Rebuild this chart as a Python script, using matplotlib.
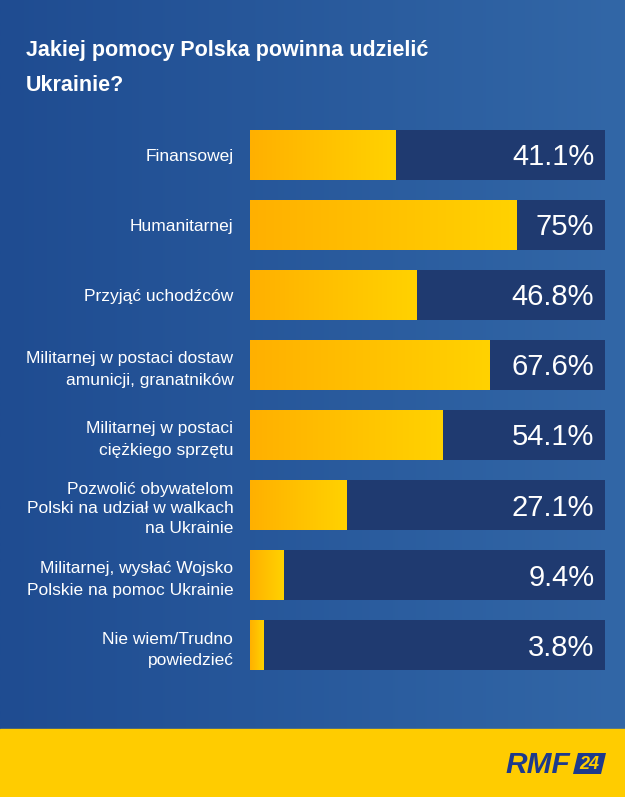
import numpy as np
import matplotlib
matplotlib.use("Agg")
import matplotlib.pyplot as plt
from matplotlib.colors import LinearSegmentedColormap
from matplotlib.patches import Rectangle, Polygon

plt.rcParams['font.family'] = ['Liberation Sans', 'DejaVu Sans']

# data
title = "Jakiej pomocy Polska powinna udzielić\nUkrainie?"
labels = [
    "Finansowej",
    "Humanitarnej",
    "Przyjąć uchodźców",
    "Militarnej w postaci dostaw\namunicji, granatników",
    "Militarnej w postaci\nciężkiego sprzętu",
    "Pozwolić obywatelom\nPolski na udział w walkach\nna Ukrainie",
    "Militarnej, wysłać Wojsko\nPolskie na pomoc Ukrainie",
    "Nie wiem/Trudno\npowiedzieć",
]
values = [41.1, 75, 46.8, 67.6, 54.1, 27.1, 9.4, 3.8]

W, H = 625, 797
fig = plt.figure(figsize=(W / 100, H / 100), dpi=100)

# background gradient + yellow footer
bg_cmap = LinearSegmentedColormap.from_list("bg", ["#1f4c91", "#3267a7"])
ax_bg = fig.add_axes([0, 0, 1, 1], zorder=-10)
ax_bg.imshow(np.linspace(0, 1, 256).reshape(1, -1), cmap=bg_cmap,
             extent=[0, 1, 0, 1], aspect="auto")
ax_bg.add_patch(Rectangle((0, 0), 1, 68 / H, color="#ffcc00"))
ax_bg.set_xlim(0, 1)
ax_bg.set_ylim(0, 1)
ax_bg.axis("off")

# va="baseline" puts the last line's baseline at y
fig.text(26 / W, 1 - 91 / H, title, fontsize=15.5, fontweight="bold",
         color="white", ha="left", va="baseline", linespacing=1.85)

# bars
ax = fig.add_axes([250 / W, 1 - 670 / H, 355 / W, 540 / H])
ax.patch.set_alpha(0)
y = np.arange(len(values))
h = 50 / 70
ax.barh(y, [100] * len(values), height=h, color="#1f3a70")
bars = ax.barh(y, values, height=h, color="#ffc000")

bar_cmap = LinearSegmentedColormap.from_list("bar", ["#ffb000", "#ffd200"])
grad = np.linspace(0, 1, 256).reshape(1, -1)
for bar, yi, v in zip(bars, y, values):
    im = ax.imshow(grad, cmap=bar_cmap, aspect="auto",
                   extent=[0, v, yi + h / 2, yi - h / 2], zorder=3)
    im.set_clip_path(bar)
    ax.text(97, yi + 0.15, f"{v:g}%", color="white", fontsize=21,
            ha="right", va="baseline", zorder=4)

ax.set_xlim(0, 100)
ax.set_ylim(len(values) - 1 + h / 2, -h / 2)
ax.set_xticks([])
ax.set_yticks(y, labels)
ax.tick_params(axis="y", length=0, pad=12, labelsize=12.5, labelcolor="white")
for t in ax.get_yticklabels():
    t.set_linespacing(1.38 if t.get_text().count("\n") > 1 else 1.55)
for s in ax.spines.values():
    s.set_visible(False)

# logo
fig.text(505 / W, 1 - 773 / H, "RMF", fontsize=21.5, fontweight="bold",
         fontstyle="italic", color="#1d3a8c", ha="left", va="baseline")
box = [(573, 774), (578, 753), (606, 753), (601, 774)]
ax_bg.add_patch(Polygon([(px / W, 1 - py / H) for px, py in box],
                        closed=True, fc="#1d3a8c", ec="none"))
fig.text(589.5 / W, 1 - 769 / H, "24", fontsize=13, fontweight="bold",
         fontstyle="italic", color="#ffcc00", ha="center", va="baseline")

fig.savefig("out.png", dpi=100)
